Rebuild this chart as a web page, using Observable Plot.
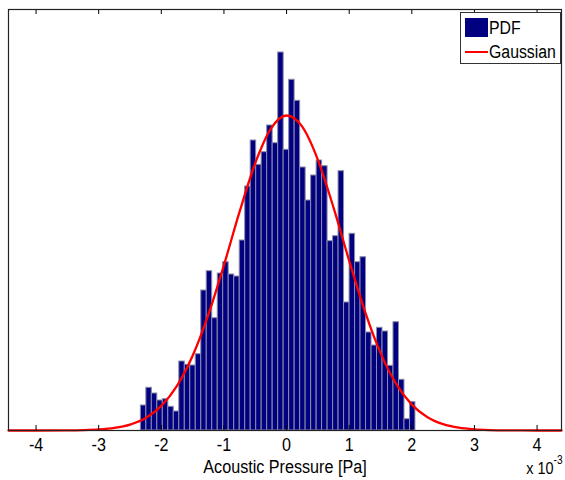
<!DOCTYPE html>
<html>
<head>
<meta charset="utf-8">
<script src="https://cdn.jsdelivr.net/npm/d3@7"></script>
<script src="https://cdn.jsdelivr.net/npm/@observablehq/plot@0.6"></script>
<style>
  body { margin: 0; background: #fff; }
  #wrap { position: relative; width: 565px; height: 480px; }
  #legend { position: absolute; left: 460px; top: 12px; width: 99px; height: 50px; border: 1px solid #333; background: #fff;
            font-family: "Liberation Sans", Arial, sans-serif; font-size: 18px; color: #000; }
  #legend .sw { position: absolute; left: 4px; top: 5px; width: 23px; height: 19px; background: #000080; }
  #legend .ln { position: absolute; left: 4px; top: 38px; width: 23px; height: 2px; background: #ff0000; }
  #legend .lb { position: absolute; left: 28px; line-height: 20px; transform: scaleX(0.88); transform-origin: left center; white-space: nowrap; }
</style>
</head>
<body>
<div id="wrap"></div>
<script>
// ---- data (values in units of 10^-3 Pa on x) ----
const binCenters = [-2.283, -2.195, -2.108, -2.020, -1.932, -1.845, -1.757, -1.669, -1.581, -1.494,
                    -1.406, -1.318, -1.231, -1.143, -1.055, -0.968, -0.880, -0.792, -0.704, -0.617,
                    -0.529, -0.441, -0.354, -0.266, -0.178, -0.090, -0.003, 0.085, 0.173, 0.261,
                    0.348, 0.436, 0.524, 0.611, 0.699, 0.787, 0.874, 0.962, 1.050, 1.138,
                    1.225, 1.313, 1.401, 1.488, 1.576, 1.664, 1.751, 1.839, 1.927, 2.014];
const pdfValues = [25, 42.7, 37, 30, 31.3, 23.7, 19, 69, 65.7, 65,
                   76.3, 140, 159.3, 112.3, 157, 168.3, 156, 154, 190, 244,
                   290, 265.7, 278.3, 305, 287.3, 378, 280.7, 350.7, 329.7, 263,
                   230, 255, 270, 264.3, 189.3, 194.3, 259.3, 128, 196.7, 168.3,
                   173.3, 98, 85, 102.7, 99, 64.7, 108.3, 50.7, 11.3, 28.3];
const binWidth = 0.0877;
const gaussX = [-4.44, -4, -3.5, -3.25, -3, -2.75, -2.5, -2.25, -2, -1.75, -1.5, -1.25, -1, -0.75, -0.5, -0.25,
                0, 0.25, 0.5, 0.75, 1, 1.25, 1.5, 1.75, 2, 2.25, 2.5, 2.75, 3, 3.25, 3.5, 4, 4.39];
const gaussY = [0, 0.01, 0.13, 0.38, 1.03, 2.57, 5.9, 12.5, 24.6, 44.6, 74.7, 115.6, 165.4, 218.8, 267.3, 301.8,
                315, 303.8, 270.7, 222.9, 169.7, 119.4, 77.6, 46.6, 25.9, 13.3, 6.3, 2.76, 1.12, 0.42, 0.14, 0.01, 0];
const xTicks = [-4, -3, -2, -1, 0, 1, 2, 3, 4];
const xDomain = [-4.44, 4.39];
const yMax = 421;
const xLabel = "Acoustic Pressure [Pa]";
const exponentBase = "x 10";
const exponentPower = "-3";
const legendLabels = ["PDF", "Gaussian"];

// ---- build ----
const bars = binCenters.map((c, i) => ({x1: c - binWidth / 2, x2: c + binWidth / 2, y: pdfValues[i]}));
const curve = gaussX.map((x, i) => ({x, y: gaussY[i]}));

const plot = Plot.plot({
  width: 565, height: 480,
  marginLeft: 8, marginRight: 4, marginTop: 9, marginBottom: 50,
  style: {fontFamily: "'Liberation Sans', Arial, sans-serif", fontSize: "20px", background: "#fff", color: "#000"},
  x: {domain: xDomain},
  y: {domain: [0, yMax], axis: null},
  marks: [
    Plot.rectY(bars, {x1: "x1", x2: "x2", y: "y", fill: "#000080", stroke: "#8c8ca8", strokeWidth: 1}),
    Plot.line(curve, {x: "x", y: "y", stroke: "#ff0000", strokeWidth: 2.3, curve: "monotone-x"}),
    Plot.ruleX(xTicks, {y1: 0, y2: 5, stroke: "#000"}),
    Plot.ruleX(xTicks, {y1: yMax - 5, y2: yMax, stroke: "#000"}),
    Plot.frame({stroke: "#222", strokeWidth: 1.2}),
    Plot.axisX(xTicks, {anchor: "bottom", tickSize: 0, tickPadding: 7, fontSize: 19, tickFormat: d => String(d), label: null}),
    Plot.text([xLabel], {text: d => d, frameAnchor: "bottom", dy: 29, lineAnchor: "top", fontSize: 19}),
    Plot.text([exponentBase], {text: d => d, frameAnchor: "bottom-right", textAnchor: "end", dx: -8, dy: 31, lineAnchor: "top", fontSize: 17}),
    Plot.text([exponentPower], {text: d => d, frameAnchor: "bottom-right", textAnchor: "start", dx: -8, dy: 25, lineAnchor: "top", fontSize: 12})
  ]
});

// narrow the glyphs horizontally (reference text is tall and condensed)
const sx = 0.85;
plot.querySelectorAll("text").forEach(el => {
  const x = +(el.getAttribute("x") || 0);
  const t = el.getAttribute("transform") || "";
  el.setAttribute("transform", `${t} translate(${x},0) scale(${sx},1) translate(${-x},0)`);
});

const wrap = document.getElementById("wrap");
wrap.appendChild(plot);

const legend = document.createElement("div");
legend.id = "legend";
legend.innerHTML = `<div class="sw"></div><div class="lb" style="top:5px">${legendLabels[0]}</div>
                    <div class="ln"></div><div class="lb" style="top:29px">${legendLabels[1]}</div>`;
wrap.appendChild(legend);
</script>
</body>
</html>
